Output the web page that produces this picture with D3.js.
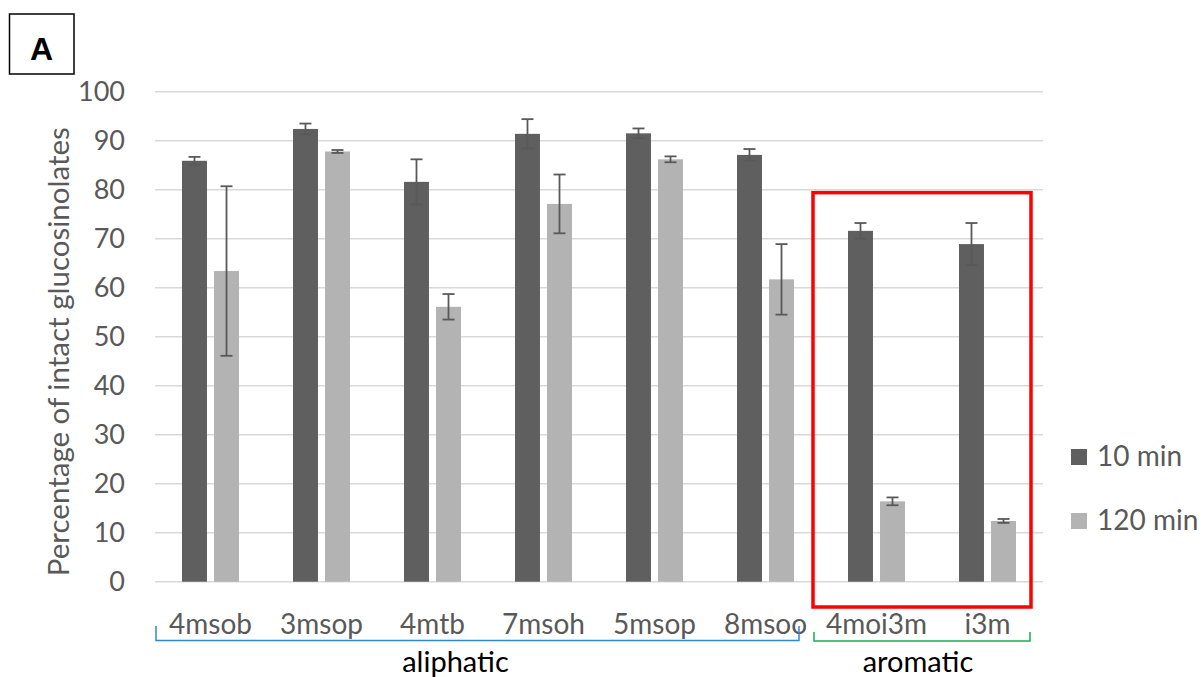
<!DOCTYPE html>
<html>
<head>
<meta charset="utf-8">
<script src="https://cdn.jsdelivr.net/npm/d3@7/dist/d3.min.js"></script>
<style>
  html, body { margin: 0; padding: 0; background: #fff; }
  svg { display: block; }
  text { font-family: Lato, "Open Sans", sans-serif; }
</style>
</head>
<body>
<svg id="chart" width="1203" height="677"></svg>
<script>
const categories = ["4msob", "3msop", "4mtb", "7msoh", "5msop", "8msoo", "4moi3m", "i3m"];
const seriesNames = ["10 min", "120 min"];
const values10 = [85.9, 92.4, 81.6, 91.4, 91.5, 87.1, 71.6, 68.9];
const errors10 = [0.8, 1.1, 4.6, 3.0, 1.0, 1.2, 1.6, 4.3];
const values120 = [63.4, 87.8, 56.1, 77.1, 86.2, 61.7, 16.4, 12.4];
const errors120 = [17.3, 0.3, 2.6, 6.0, 0.6, 7.2, 0.8, 0.4];
const yTicks = [0, 10, 20, 30, 40, 50, 60, 70, 80, 90, 100];
const groups = [
  { name: "aliphatic", members: ["4msob", "3msop", "4mtb", "7msoh", "5msop", "8msoo"], color: "#2e86d6" },
  { name: "aromatic", members: ["4moi3m", "i3m"], color: "#1aaa55" }
];
const highlighted = ["4moi3m", "i3m"];
const colors = { "10 min": "#5f5f5f", "120 min": "#b3b3b3" };
const yTitle = "Percentage of intact glucosinolates";
const panelLabel = "A";

const svg = d3.select("#chart");
const x = d3.scaleBand().domain(categories).range([155, 1043]);
const x1 = d3.scaleBand().domain(seriesNames).range([-28.5, 28.5]).paddingInner(0.22);
const y = d3.scaleLinear().domain([0, 100]).range([581.7, 91.7]);

const data = [];
categories.forEach((c, i) => {
  data.push({ cat: c, s: "10 min", v: values10[i], e: errors10[i] });
  data.push({ cat: c, s: "120 min", v: values120[i], e: errors120[i] });
});

// gridlines
svg.append("g").selectAll("line").data(yTicks).join("line")
  .attr("x1", x.range()[0]).attr("x2", x.range()[1])
  .attr("y1", d => y(d)).attr("y2", d => y(d))
  .attr("stroke", "#d9d9d9").attr("stroke-width", 1.5);

// y tick labels
svg.append("g").selectAll("text").data(yTicks).join("text")
  .attr("x", 125).attr("y", d => y(d)).attr("dy", "0.35em")
  .attr("text-anchor", "end").attr("fill", "#595959")
  .style("font-size", "27px").text(d => d);

// y title
svg.append("text")
  .attr("transform", `translate(69, ${(y(0) + y(100)) / 2 + 15}) rotate(-90)`)
  .attr("text-anchor", "middle").attr("fill", "#595959")
  .style("font-size", "29.5px").text(yTitle);

// bars
const cx = d => x(d.cat) + x.bandwidth() / 2 + x1(d.s);
svg.append("g").selectAll("rect").data(data).join("rect")
  .attr("x", d => cx(d)).attr("width", x1.bandwidth())
  .attr("y", d => y(d.v)).attr("height", d => y(0) - y(d.v))
  .attr("fill", d => colors[d.s]);

// error bars
const eb = svg.append("g").attr("stroke", "#595959").attr("stroke-width", 1.8);
const mid = d => cx(d) + x1.bandwidth() / 2;
eb.selectAll("line.v").data(data).join("line").attr("class", "v")
  .attr("x1", mid).attr("x2", mid)
  .attr("y1", d => y(d.v + d.e)).attr("y2", d => y(d.v - d.e));
eb.selectAll("line.t").data(data).join("line").attr("class", "t")
  .attr("x1", d => mid(d) - 6).attr("x2", d => mid(d) + 6)
  .attr("y1", d => y(d.v + d.e)).attr("y2", d => y(d.v + d.e));
eb.selectAll("line.b").data(data).join("line").attr("class", "b")
  .attr("x1", d => mid(d) - 6).attr("x2", d => mid(d) + 6)
  .attr("y1", d => y(d.v - d.e)).attr("y2", d => y(d.v - d.e));

// category labels
svg.append("g").selectAll("text").data(categories).join("text")
  .attr("x", d => x(d) + x.bandwidth() / 2).attr("y", 634)
  .attr("text-anchor", "middle").attr("fill", "#595959")
  .style("font-size", "28px").text(d => d);

// group brackets
const bracketDefs = [
  { g: groups[0], x0: x(groups[0].members[0]) + 1, x1: x(groups[0].members[groups[0].members.length - 1]) + x.bandwidth() - 22, top: 626, bot: 640.5, shift: -22 },
  { g: groups[1], x0: x(groups[1].members[0]) - 7, x1: x(groups[1].members[groups[1].members.length - 1]) + x.bandwidth() - 13, top: 632, bot: 641, shift: -4 }
];
bracketDefs.forEach(b => {
  svg.append("path")
    .attr("d", `M${b.x0},${b.top} V${b.bot} H${b.x1} V${b.top}`)
    .attr("fill", "none").attr("stroke", b.g.color).attr("stroke-width", 1.5);
  svg.append("text")
    .attr("x", (b.x0 + b.x1) / 2 + b.shift).attr("y", 672)
    .attr("text-anchor", "middle").attr("fill", "#000")
    .style("font-size", "29px").text(b.g.name);
});

// highlight box
const hx0 = x(highlighted[0]) - 8;
const hx1 = x(highlighted[highlighted.length - 1]) + x.bandwidth() - 12;
svg.append("rect")
  .attr("x", hx0).attr("y", y(79.4))
  .attr("width", hx1 - hx0).attr("height", 607 - y(79.4))
  .attr("fill", "none").attr("stroke", "#ff0000").attr("stroke-width", 3.5);

// legend
const leg = svg.append("g");
seriesNames.forEach((s, i) => {
  const ly = 449 + i * 64;
  leg.append("rect").attr("x", 1071).attr("y", ly).attr("width", 16).attr("height", 16).attr("fill", colors[s]);
  leg.append("text").attr("x", 1097).attr("y", ly + 17).attr("fill", "#595959")
    .style("font-size", "28px").text(s);
});

// panel label
svg.append("rect").attr("x", 9.5).attr("y", 14).attr("width", 64.5).attr("height", 60)
  .attr("fill", "none").attr("stroke", "#000").attr("stroke-width", 1.5);
svg.append("text").attr("x", 41.5).attr("y", 60).attr("text-anchor", "middle")
  .style("font-family", "'Liberation Sans', Arial, sans-serif")
  .style("font-weight", "bold").style("font-size", "32px").text(panelLabel);
</script>
</body>
</html>
